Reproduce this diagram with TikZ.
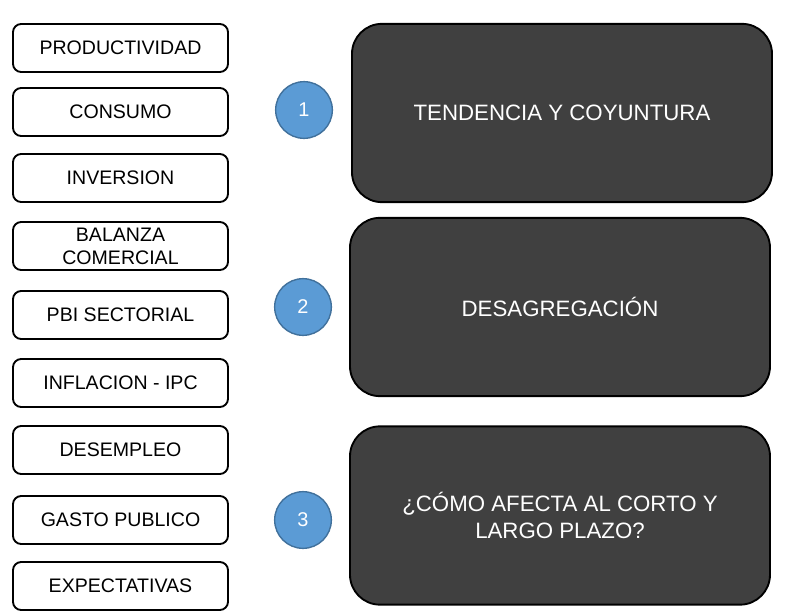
\documentclass[tikz,border=0pt]{standalone}
\usepackage{fontspec}
\setmainfont{Liberation Sans}
\definecolor{darkbox}{HTML}{404040}
\definecolor{ballfill}{HTML}{5B9BD5}
\definecolor{ballline}{HTML}{41719C}
\tikzset{
  factor/.style={draw=black,line width=1.6pt,rounded corners=7pt,fill=white,
    minimum width=6.45cm,minimum height=1.44cm,align=center,
    font=\fontsize{16.7}{19.5}\selectfont},
  theme/.style={draw=black,line width=1.6pt,rounded corners=0.9cm,fill=darkbox,
    text=white,minimum width=12.6cm,minimum height=5.35cm,align=center,
    font=\fontsize{19}{23}\selectfont},
  ball/.style={circle,draw=ballline,line width=1.2pt,fill=ballfill,text=white,
    minimum size=1.7cm,font=\fontsize{17}{19}\selectfont}
}
\begin{document}
\begin{tikzpicture}[x=0.03cm,y=-0.03cm]
 \useasboundingbox (0,0) rectangle (798,616);
 % factores
 \node[factor] (prod) at (120.5,48) {PRODUCTIVIDAD};
 \node[factor] (cons) at (120.5,112) {CONSUMO};
 \node[factor] (inv) at (120.5,178) {INVERSION};
 \node[factor] (bal) at (120.5,246) {BALANZA\\COMERCIAL};
 \node[factor] (pbi) at (120.5,315) {PBI SECTORIAL};
 \node[factor] (ipc) at (120.5,383) {INFLACION - IPC};
 \node[factor] (desem) at (120.5,450) {DESEMPLEO};
 \node[factor] (gasto) at (120.5,520) {GASTO PUBLICO};
 \node[factor] (expec) at (120.5,586) {EXPECTATIVAS};
 % numeros
 \node[ball] (uno) at (304,110) {1};
 \node[ball] (dos) at (303,307) {2};
 \node[ball] (tres) at (303,520) {3};
 % temas
 \node[theme] (tend) at (562,113) {TENDENCIA Y COYUNTURA};
 \node[theme] (desag) at (560,307) {DESAGREGACIÓN};
 \node[theme] (plazo) at (560,515.5) {¿CÓMO AFECTA AL CORTO Y\\LARGO PLAZO?};
\end{tikzpicture}
\end{document}
